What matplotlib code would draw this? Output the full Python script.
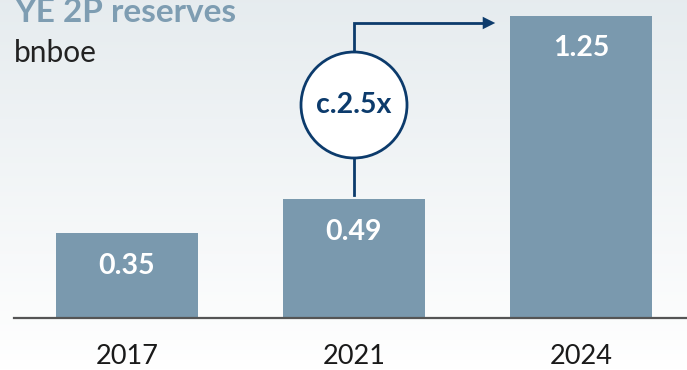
import matplotlib.pyplot as plt
import numpy as np
from matplotlib.patches import Ellipse

# reserves, bnboe
years = ["2017", "2021", "2024"]
reserves = [0.35, 0.49, 1.25]
growth_label = "c.2.5x"

bar_col = "#7a99ae"
navy = "#0c3b6c"

plt.rcParams['font.family'] = ['Lato', 'DejaVu Sans']

fig = plt.figure(figsize=(6.87, 3.70), dpi=100)

# soft grey-to-white backdrop
bg = fig.add_axes([0, 0, 1, 1], zorder=0)
grad = np.linspace(0, 1, 256).reshape(-1, 1)
top = np.array([0.902, 0.925, 0.937])
bot = np.array([1.0, 1.0, 1.0])
img = top[None, None, :] * (1 - grad[:, :, None]) + bot[None, None, :] * grad[:, :, None]
bg.imshow(img, aspect='auto', extent=[0, 1, 0, 1])
bg.axis('off')

ax = fig.add_axes([0, 0, 1, 1], zorder=1)
ax.patch.set_alpha(0)
px_y = 242.0  # pixels per bnboe
px_x = 227.0  # pixels per category step
ax.set_ylim(-52 / px_y, 318 / px_y)
ax.set_xlim(-127 / px_x, 2 + 106 / px_x)
ax.axis('off')

x = np.arange(len(years))
bw = 142 / px_x
ax.bar(x, reserves, width=bw, color=bar_col, zorder=2)
ax.axhline(0, xmin=14 / 687, xmax=1, color="#555555", lw=1.6, zorder=3)

for xi, v, yr in zip(x, reserves, years):
    ax.text(xi, v - 33 / px_y, f"{v:.2f}", ha='center', va='center',
            color='white', fontsize=20.5, fontweight='bold', zorder=4)
    ax.text(xi, -38 / px_y, yr, ha='center', va='center',
            color='#1a1a1a', fontsize=19.5, zorder=4)

# growth bubble above the 2021 bar
cy = (318 - 105) / px_y
rx, ry = 53 / px_x, 53 / px_y
ax.add_patch(Ellipse((1, cy), 2 * rx, 2 * ry, facecolor='white',
                     edgecolor=navy, lw=2, zorder=5))
ax.text(1, cy, growth_label, ha='center', va='center', color=navy,
        fontsize=20.5, fontweight='bold', zorder=6)
ax.plot([1, 1], [reserves[1] + 4 / px_y, cy - ry], color=navy, lw=2, zorder=4)
arrow_y = (318 - 23) / px_y
arrow_end = 2 - 83 / px_x
ax.plot([1, 1, arrow_end - 12 / px_x], [cy + ry, arrow_y, arrow_y],
        color=navy, lw=2, zorder=4, solid_joinstyle='miter')
ax.annotate("", xy=(arrow_end, arrow_y), xytext=(arrow_end - 14 / px_x, arrow_y),
            arrowprops=dict(arrowstyle='-|>,head_length=0.9,head_width=0.45',
                            color=navy, lw=0), zorder=5)

fig.text(14 / 687, 1 - 22 / 370, "YE 2P reserves", ha='left', va='baseline',
         color="#7e9db2", fontsize=24, fontweight='bold')
fig.text(14 / 687, 1 - 62 / 370, "bnboe", ha='left', va='baseline',
         color="#222222", fontsize=21.5)

fig.savefig("out.png", dpi=100)
